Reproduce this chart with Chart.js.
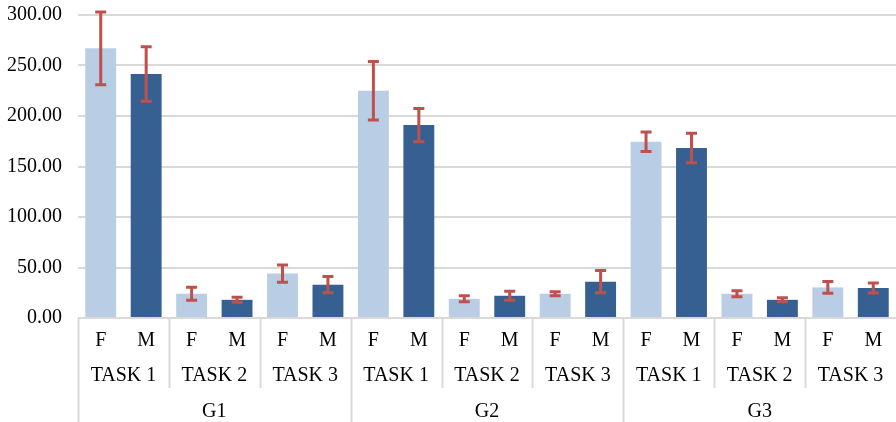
<!DOCTYPE html>
<html>
<head>
<meta charset="utf-8">
<script src="https://cdn.jsdelivr.net/npm/chart.js@4/dist/chart.umd.min.js"></script>
<style>
  body { margin: 0; background: #fff; }
  #wrap { width: 896px; height: 422px; }
</style>
</head>
<body>
<div id="wrap"><canvas id="myChart"></canvas></div>
<script>
// chart data
let groups = ["G1", "G2", "G3"];
let tasks = ["TASK 1", "TASK 2", "TASK 3"];
let sexes = ["F", "M"];

// means per bar, in order G1 T1 F, G1 T1 M, G1 T2 F ...
let means = [267, 241.6, 24, 18, 44, 33,
             225, 191, 19, 22, 24, 36,
             174.5, 168.3, 24, 18, 30.3, 29.7];
// +/- error for each bar
let errors = [36, 27, 6.5, 2.5, 8.5, 8,
              29, 16.5, 3, 4.5, 2, 11,
              9.7, 14.5, 3, 2, 5.8, 5];

let yTicks = [0, 50, 100, 150, 200, 250, 300];

let lightBlue = "#b9cde5";
let darkBlue = "#376092";
let errColor = "#c0504d";
let gridColor = "#d9d9d9";
let fontFamily = "'Liberation Serif', 'DejaVu Serif', serif";

// labels for the lowest axis level: F, M repeated
let labels = new Array();
let barColors = new Array();
for (let g = 0; g < groups.length; g++) {
    for (let t = 0; t < tasks.length; t++) {
        for (let s = 0; s < sexes.length; s++) {
            labels.push(sexes[s]);
            barColors.push(s == 0 ? lightBlue : darkBlue);
        }
    }
}

/**
 * Draws the error bars on top of each bar
 */
const errorBars = {
    id: "errorBars",
    afterDatasetsDraw(chart) {
        let ctx = chart.ctx;
        let yScale = chart.scales.y;
        let meta = chart.getDatasetMeta(0);
        ctx.save();
        ctx.strokeStyle = errColor;
        ctx.lineWidth = 3;
        meta.data.forEach((bar, i) => {
            let x = bar.x;
            let top = yScale.getPixelForValue(means[i] + errors[i]);
            let bottom = yScale.getPixelForValue(means[i] - errors[i]);
            ctx.beginPath();
            ctx.moveTo(x, top);
            ctx.lineTo(x, bottom);
            ctx.moveTo(x - 5.5, top);
            ctx.lineTo(x + 5.5, top);
            ctx.moveTo(x - 5.5, bottom);
            ctx.lineTo(x + 5.5, bottom);
            ctx.stroke();
        });
        ctx.restore();
    }
};

/**
 * Draws the task and group levels of the category axis and the separators
 */
const multiLevelAxis = {
    id: "multiLevelAxis",
    afterDraw(chart) {
        let ctx = chart.ctx;
        let xScale = chart.scales.x;
        let area = chart.chartArea;
        let half = (xScale.getPixelForValue(1) - xScale.getPixelForValue(0)) / 2;
        let h = chart.height;

        ctx.save();
        ctx.strokeStyle = gridColor;
        ctx.lineWidth = 2;
        ctx.beginPath();
        ctx.moveTo(area.left, area.bottom);
        ctx.lineTo(area.right, area.bottom);
        for (let k = 0; k < labels.length; k += 2) {
            let px = Math.round(xScale.getPixelForValue(k) - half) + 0.5;
            let end = (k % 6 == 0) ? h : 388;
            ctx.moveTo(px, area.bottom);
            ctx.lineTo(px, end);
        }
        ctx.stroke();

        ctx.fillStyle = "#000";
        ctx.font = "20px " + fontFamily;
        ctx.textAlign = "center";
        ctx.textBaseline = "middle";
        for (let g = 0; g < groups.length; g++) {
            for (let t = 0; t < tasks.length; t++) {
                let i = g * 6 + t * 2;
                let cx = (xScale.getPixelForValue(i) + xScale.getPixelForValue(i + 1)) / 2;
                ctx.fillText(tasks[t], cx, 376);
            }
            let gx = (xScale.getPixelForValue(g * 6) + xScale.getPixelForValue(g * 6 + 5)) / 2;
            ctx.fillText(groups[g], gx, 412);
        }
        ctx.restore();
    }
};

new Chart("myChart", {
    type: "bar",
    data: {
        labels: labels,
        datasets: [{
            data: means,
            backgroundColor: barColors,
            barPercentage: 0.68,
            categoryPercentage: 1.0
        }]
    },
    options: {
        responsive: true,
        maintainAspectRatio: false,
        animation: false,
        layout: { padding: 0 },
        plugins: {
            legend: { display: false },
            tooltip: { enabled: false }
        },
        scales: {
            x: {
                grid: { display: false, drawTicks: false },
                border: { display: false },
                ticks: {
                    color: "#000",
                    font: { family: fontFamily, size: 20 },
                    padding: 11,
                    maxRotation: 0,
                    autoSkip: false
                },
                afterFit(scale) { scale.height = 104; }
            },
            y: {
                min: 0,
                max: 300,
                afterBuildTicks(scale) {
                    scale.ticks = yTicks.map(v => ({ value: v }));
                },
                grid: { color: gridColor, lineWidth: 2, drawTicks: false },
                border: { display: false },
                ticks: {
                    color: "#000",
                    font: { family: fontFamily, size: 20 },
                    padding: 16,
                    callback: v => v.toFixed(2)
                },
                afterFit(scale) {
                    scale.width = 78;
                    scale.paddingTop = 15;
                    scale.paddingBottom = 0;
                }
            }
        }
    },
    plugins: [errorBars, multiLevelAxis]
});
</script>
</body>
</html>
